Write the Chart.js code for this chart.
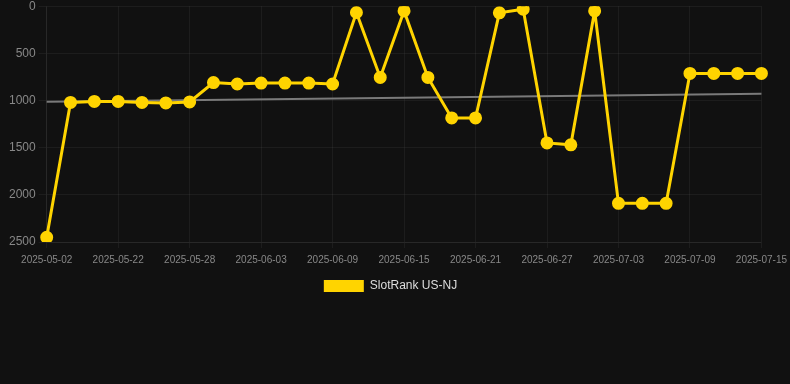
<!DOCTYPE html>
<html>
<head>
<meta charset="utf-8">
<script src="https://cdn.jsdelivr.net/npm/chart.js@4"></script>
<style>
html,body{margin:0;padding:0;background:#111111;overflow:hidden;width:790px;height:384px;}
#wrap{width:793px;height:388px;position:relative;top:-4px;}
</style>
</head>
<body>
<div id="wrap"><canvas id="c"></canvas></div>
<script>
const labels = [
  "2025-05-02","2025-05-18","2025-05-20","2025-05-22","2025-05-24","2025-05-26",
  "2025-05-28","2025-05-30","2025-06-01","2025-06-03","2025-06-05","2025-06-07",
  "2025-06-09","2025-06-11","2025-06-13","2025-06-15","2025-06-17","2025-06-19",
  "2025-06-21","2025-06-23","2025-06-25","2025-06-27","2025-06-29","2025-07-01",
  "2025-07-03","2025-07-05","2025-07-07","2025-07-09","2025-07-11","2025-07-13",
  "2025-07-15"
];
const rankValues = [
  2450, 1020, 1010, 1010, 1020, 1025,
  1015, 810, 825, 815, 815, 815,
  825, 67, 755, 50, 755, 1185,
  1185, 70, 32, 1450, 1470, 50,
  2090, 2090, 2090, 713, 713, 713,
  713
];
const trendStart = 1013;
const trendEnd = 929;
const trendValues = labels.map((_, i) => i === 0 ? trendStart : (i === labels.length - 1 ? trendEnd : null));
const yTicks = [0, 500, 1000, 1500, 2000, 2500];

const legendShift = {
  id: 'legendShift',
  afterLayout(chart) {
    const lg = chart.legend;
    if (lg) { lg.left -= 18; lg.right -= 0; }
  }
};

new Chart(document.getElementById('c'), {
  type: 'line',
  data: {
    labels: labels,
    datasets: [
      {
        label: 'SlotRank US-NJ',
        data: rankValues,
        borderColor: '#FFD400',
        backgroundColor: '#FFD400',
        borderWidth: 3,
        pointRadius: 5,
        pointHoverRadius: 5,
        pointBackgroundColor: '#FFD400',
        pointBorderColor: '#FFD400',
        tension: 0,
        order: 1
      },
      {
        label: 'trend',
        data: trendValues,
        borderColor: '#7a7a7a',
        borderWidth: 2,
        pointRadius: 0,
        spanGaps: true,
        tension: 0,
        order: 2
      }
    ]
  },
  plugins: [legendShift],
  options: {
    responsive: true,
    maintainAspectRatio: false,
    animation: false,
    layout: { padding: { left: 6, right: 0, top: 0, bottom: 82 } },
    plugins: {
      legend: {
        position: 'bottom',
        labels: {
          color: '#dddddd',
          font: { family: 'Liberation Sans, Arial, sans-serif', size: 12 },
          boxWidth: 40,
          boxHeight: 12,
          padding: 8,
          generateLabels: (chart) => Chart.defaults.plugins.legend.labels.generateLabels(chart)
            .filter(item => item.text !== 'trend')
            .map(item => Object.assign(item, { lineWidth: 0 }))
        }
      },
      tooltip: { enabled: false }
    },
    scales: {
      x: {
        grid: { color: 'rgba(255,255,255,0.05)', drawTicks: true, tickLength: 6 },
        border: { color: 'rgba(255,255,255,0.05)' },
        ticks: {
          color: '#888888',
          font: { family: 'Liberation Sans, Arial, sans-serif', size: 10 },
          maxRotation: 0,
          autoSkip: true,
          maxTicksLimit: 11,
          padding: 6
        }
      },
      y: {
        reverse: true,
        min: 0,
        max: 2500,
        afterBuildTicks: (axis) => { axis.ticks = yTicks.map(v => ({ value: v })); },
        grid: { color: 'rgba(255,255,255,0.05)', tickLength: 8 },
        border: { color: 'rgba(255,255,255,0.05)' },
        ticks: {
          color: '#888888',
          font: { family: 'Liberation Sans, Arial, sans-serif', size: 12 },
          padding: 3,
          callback: (v) => String(v)
        }
      }
    }
  }
});
</script>
</body>
</html>
